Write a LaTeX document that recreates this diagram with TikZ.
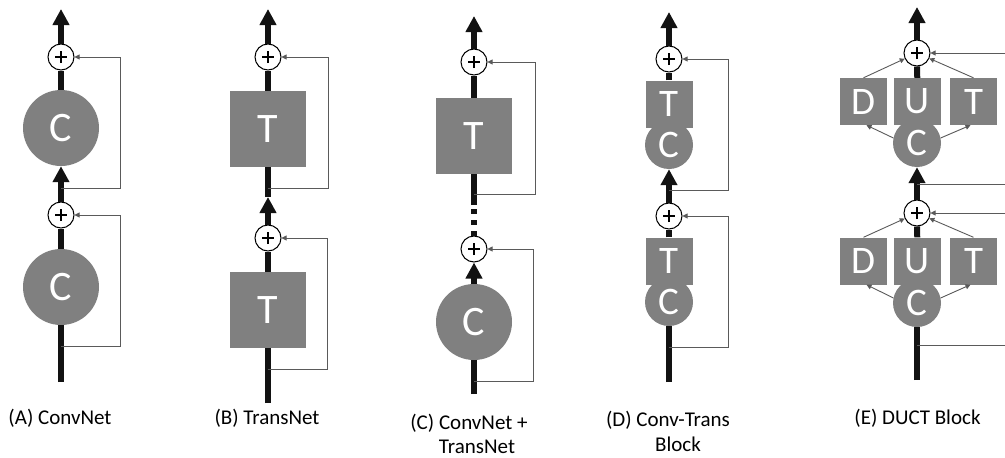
\documentclass[tikz,border=0pt]{standalone}
\usepackage{fontspec}
\setmainfont{Carlito}
\usetikzlibrary{arrows.meta,calc}
\definecolor{blockgray}{RGB}{128,128,128}
\definecolor{skipgray}{RGB}{90,90,90}
\begin{document}
\begin{tikzpicture}[x=1pt,y=-1pt,
  trunk/.style={line width=6pt,color=black!93},
  trunkarrow/.style={trunk,-{Triangle[length=16pt,width=16pt]}},
  skip/.style={line width=0.9pt,color=skipgray},
  skiparrow/.style={skip,-{Triangle[length=5pt,width=5pt]}},
  adder/.style={circle,draw=black,line width=1pt,fill=white,minimum size=26pt,inner sep=0pt,
    path picture={
      \draw[line width=1.6pt] ($(path picture bounding box.center)+(-6pt,0)$) -- ++(12pt,0);
      \draw[line width=1.6pt] ($(path picture bounding box.center)+(0,-6pt)$) -- ++(0,12pt);}},
  convbig/.style={circle,fill=blockgray,minimum size=76pt,inner sep=0pt,text=white,
    font=\fontsize{42}{42}\selectfont},
  transbig/.style={rectangle,fill=blockgray,minimum size=76pt,inner sep=0pt,text=white,
    font=\fontsize{42}{42}\selectfont},
  convsmall/.style={circle,fill=blockgray,minimum size=48pt,inner sep=0pt,text=white,
    font=\fontsize{39}{39}\selectfont},
  boxsmall/.style={rectangle,fill=blockgray,minimum size=47pt,inner sep=0pt,text=white,
    font=\fontsize{39}{39}\selectfont},
  caption/.style={anchor=base,inner sep=0pt,font=\fontsize{21}{21}\selectfont}]
\useasboundingbox (0,0) rectangle (1005,458);

% ---------------- (A) ConvNet ----------------
\coordinate (aTop) at (61,9);
\node[adder] (ap1) at (61,57) {};
\node[convbig] (aC1) at (61,128) {C};
\coordinate (aj1) at (61,188);
\node[adder] (ap2) at (61,215) {};
\node[convbig] (aC2) at (61,287) {C};
\coordinate (aj2) at (61,346);
\coordinate (aBot) at (61,382);
\draw[trunk] (aBot) -- (aC2);
\draw[trunk] (aC2) -- (ap2);
\draw[trunkarrow] (ap2) -- (aC1);
\draw[trunk] (aC1) -- (ap1);
\draw[trunkarrow] (ap1) -- (aTop);
\draw[skiparrow] (aj1) -- ++(59,0) |- (ap1.east);
\draw[skiparrow] (aj2) -- ++(59,0) |- (ap2.east);
\node[caption] (aLab) at (60,424) {(A) ConvNet};

% ---------------- (B) TransNet ----------------
\coordinate (bTop) at (268,9);
\node[adder] (bp1) at (268,57) {};
\node[transbig] (bT1) at (268,129) {T};
\coordinate (bj1) at (268,188);
\coordinate (bm) at (268,197);
\node[adder] (bp2) at (268,238) {};
\node[transbig] (bT2) at (268,310) {T};
\coordinate (bj2) at (268,369);
\coordinate (bBot) at (268,403);
\draw[trunk] (bBot) -- (bT2);
\draw[trunk] (bT2) -- (bp2);
\draw[trunkarrow] (bp2) -- (bm);
\draw[trunk] (bm) -- (bT1);
\draw[trunk] (bT1) -- (bp1);
\draw[trunkarrow] (bp1) -- (bTop);
\draw[skiparrow] (bj1) -- ++(60,0) |- (bp1.east);
\draw[skiparrow] (bj2) -- ++(59,0) |- (bp2.east);
\node[caption] (bLab) at (267,424) {(B) TransNet};

% ---------------- (C) ConvNet + TransNet ----------------
\coordinate (cTop) at (474,16);
\node[adder] (cp1) at (474,62) {};
\node[transbig] (cT) at (474,136) {T};
\coordinate (cj1) at (474,194);
\coordinate (cd) at (474,205);
\node[adder] (cp2) at (474,249) {};
\node[convbig] (cC) at (474,322) {C};
\coordinate (cj2) at (474,381);
\coordinate (cBot) at (474,394);
\draw[trunk] (cBot) -- (cC);
\draw[trunkarrow] (cC) -- (cp2);
\draw[trunk,dash pattern=on 4.5pt off 6.5pt] (cp2.north) -- (cd);
\draw[trunk] (cd) -- (cT);
\draw[trunk] (cT) -- (cp1);
\draw[trunkarrow] (cp1) -- (cTop);
\draw[skiparrow] (cj1) -- ++(61,0) |- (cp1.east);
\draw[skiparrow] (cj2) -- ++(59,0) |- (cp2.east);
\node[caption] (cLab1) at (469,429) {(C) ConvNet +};
\node[caption] (cLab2) at (477,453) {TransNet};

% ---------------- (D) Conv-Trans Block ----------------
\coordinate (dTop) at (669,12);
\node[adder] (dp1) at (669,59) {};
\node[boxsmall] (dT1) at (669,104) {T};
\node[convsmall] (dC1) at (669,145) {C};
\coordinate (dj1) at (669,190);
\node[adder] (dp2) at (669,216) {};
\node[boxsmall] (dT2) at (669,261) {T};
\node[convsmall] (dC2) at (669,302) {C};
\coordinate (dj2) at (669,347);
\coordinate (dBot) at (669,382);
\draw[trunk] (dBot) -- (dC2);
\draw[trunk] (dT2) -- (dp2);
\draw[trunkarrow] (dp2) -- (dC1);
\draw[trunk] (dT1) -- (dp1);
\draw[trunkarrow] (dp1) -- (dTop);
\draw[skiparrow] (dj1) -- ++(59,0) |- (dp1.east);
\draw[skiparrow] (dj2) -- ++(59,0) |- (dp2.east);
\node[caption] (dLab1) at (668,426) {(D) Conv-Trans};
\node[caption] (dLab2) at (678,451) {Block};

% ---------------- (E) DUCT Block ----------------
\coordinate (eTop) at (917,7);
\node[adder] (ep1) at (917,53) {};
\node[boxsmall] (eD1) at (863.5,101.5) {D};
\node[boxsmall] (eU1) at (917.5,101.5) {U};
\node[boxsmall] (eT1) at (973.5,101.5) {T};
\node[convsmall] (eC1) at (917,143) {C};
\coordinate (ej1) at (917,184);
\node[adder] (ep2) at (917,213) {};
\node[boxsmall] (eD2) at (863.5,261) {D};
\node[boxsmall] (eU2) at (917.5,261) {U};
\node[boxsmall] (eT2) at (973.5,261) {T};
\node[convsmall] (eC2) at (917,303) {C};
\coordinate (ej2) at (917,345);
\coordinate (eBot) at (917,380);
\coordinate (eIn1) at (1005,53);
\coordinate (eOut1) at (1005,184);
\coordinate (eIn2) at (1005,213);
\coordinate (eOut2) at (1005,345);
\draw[trunk] (eBot) -- (eC2);
\draw[trunk] (eU2) -- (ep2);
\draw[trunkarrow] (ep2) -- (eC1);
\draw[trunk] (eU1) -- (ep1);
\draw[trunkarrow] (ep1) -- (eTop);
\draw[skiparrow] (eIn1) -- (ep1.east);
\draw[skip] (ej1) -- (eOut1);
\draw[skiparrow] (eIn2) -- (ep2.east);
\draw[skip] (ej2) -- (eOut2);
\foreach \k in {1,2}{
  \draw[skiparrow] (eD\k.north) -- (ep\k);
  \draw[skiparrow] (eT\k.north) -- (ep\k);
  \draw[skiparrow] (eC\k.168) -- ([xshift=3pt]eD\k.south);
  \draw[skiparrow] (eC\k.12) -- ([xshift=-3pt]eT\k.south);
}
\node[caption] (eLab) at (917.5,424) {(E) DUCT Block};
\end{tikzpicture}
\end{document}
